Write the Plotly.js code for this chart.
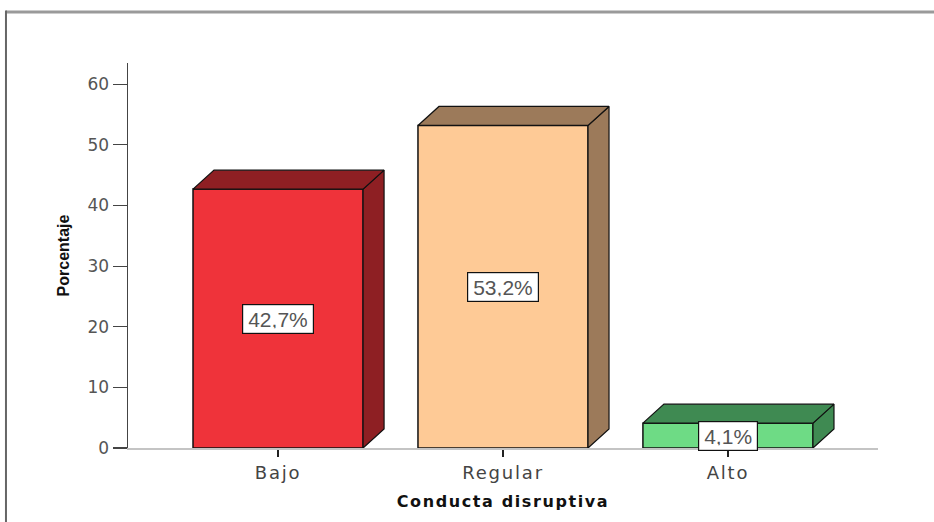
<!DOCTYPE html>
<html>
<head>
<meta charset="utf-8">
<script src="https://cdn.plot.ly/plotly-3.0.1.min.js"></script>
<style>
html,body{margin:0;padding:0;background:#fff;}
#chart{width:934px;height:522px;}
#chart .xtick text{letter-spacing:1.8px;}
#chart .g-xtitle text{letter-spacing:1.6px;}
</style>
</head>
<body>
<div id="chart"></div>
<script>
// ---- data ----
var categories = ["Bajo", "Regular", "Alto"];
var percentages = [42.7, 53.2, 4.1];
var valueLabels = ["42,7%", "53,2%", "4,1%"];
var frontColors = ["#EF333A", "#FECA96", "#6EDB85"];
var shadeColors = ["#8E1F23", "#9C7A5A", "#3F8A52"];

// ---- style constants ----
var barWidth = 0.756;
var depthX = 0.0933;   // in category units
var depthY = 3.13;     // in value units

var xIdx = categories.map(function(_, i){ return i; });
var traces = [];

traces.push({
  type: "bar",
  x: xIdx,
  y: percentages,
  width: barWidth,
  marker: {color: frontColors, line: {color: "#111", width: 1.5}},
  hoverinfo: "skip",
  showlegend: false
});

percentages.forEach(function(v, i){
  var l = i - barWidth/2, r = i + barWidth/2;
  // side face
  traces.push({
    type: "scatter", mode: "lines", fill: "toself",
    x: [r, r + depthX, r + depthX, r, r],
    y: [0, depthY, v + depthY, v, 0],
    fillcolor: shadeColors[i],
    line: {color: "#111", width: 1.2},
    hoverinfo: "skip", showlegend: false
  });
  // top face
  traces.push({
    type: "scatter", mode: "lines", fill: "toself",
    x: [l, l + depthX, r + depthX, r, l],
    y: [v, v + depthY, v + depthY, v, v],
    fillcolor: shadeColors[i],
    line: {color: "#111", width: 1.2},
    hoverinfo: "skip", showlegend: false
  });
});

var annotations = percentages.map(function(v, i){
  return {
    x: i, y: v/2, xref: "x", yref: "y",
    text: valueLabels[i], showarrow: false,
    bgcolor: "#fff", bordercolor: "#111", borderwidth: 1.2, borderpad: 5,
    height: 18,
    font: {family: "Liberation Sans, Arial, sans-serif", size: 21, color: "#555"}
  };
});

var layout = {
  width: 934, height: 522,
  margin: {l: 128, r: 56, t: 63, b: 74},
  paper_bgcolor: "#fff", plot_bgcolor: "#fff",
  showlegend: false,
  xaxis: {
    range: [-0.667, 2.667],
    tickvals: xIdx, ticktext: categories,
    showline: true, linecolor: "#c4c4c4", linewidth: 2,
    ticks: "outside", ticklen: 7, tickcolor: "#222", tickwidth: 1.2,
    showgrid: false, zeroline: false,
    tickfont: {family: "DejaVu Sans, sans-serif", size: 18, color: "#444"},
    title: {text: "<b>Conducta disruptiva</b>", standoff: 14,
            font: {family: "DejaVu Sans, sans-serif", size: 16, color: "#111"}}
  },
  yaxis: {
    range: [0, 63.5],
    dtick: 10, tick0: 0,
    showline: true, linecolor: "#444", linewidth: 1.5,
    ticks: "outside", ticklen: 14, tickcolor: "#444", tickwidth: 1.2,
    showgrid: false, zeroline: false,
    tickfont: {family: "DejaVu Sans, sans-serif", size: 17, color: "#555"},
    title: {text: "<b>Porcentaje</b>", standoff: 14,
            font: {family: "Liberation Sans Narrow, Arial Narrow, Liberation Sans, sans-serif", size: 16, color: "#111"}}
  },
  annotations: annotations,
  shapes: [
    {type: "line", xref: "paper", yref: "paper", x0: -0.1627, x1: 1.08, y0: 1.1325, y1: 1.1325,
     line: {color: "#9a9a9a", width: 3}},
    {type: "line", xref: "paper", yref: "paper", x0: -0.1627, x1: -0.1627, y0: 1.1365, y1: -0.2,
     line: {color: "#666", width: 2}}
  ]
};

Plotly.newPlot("chart", traces, layout, {displayModeBar: false, staticPlot: true});
</script>
</body>
</html>
